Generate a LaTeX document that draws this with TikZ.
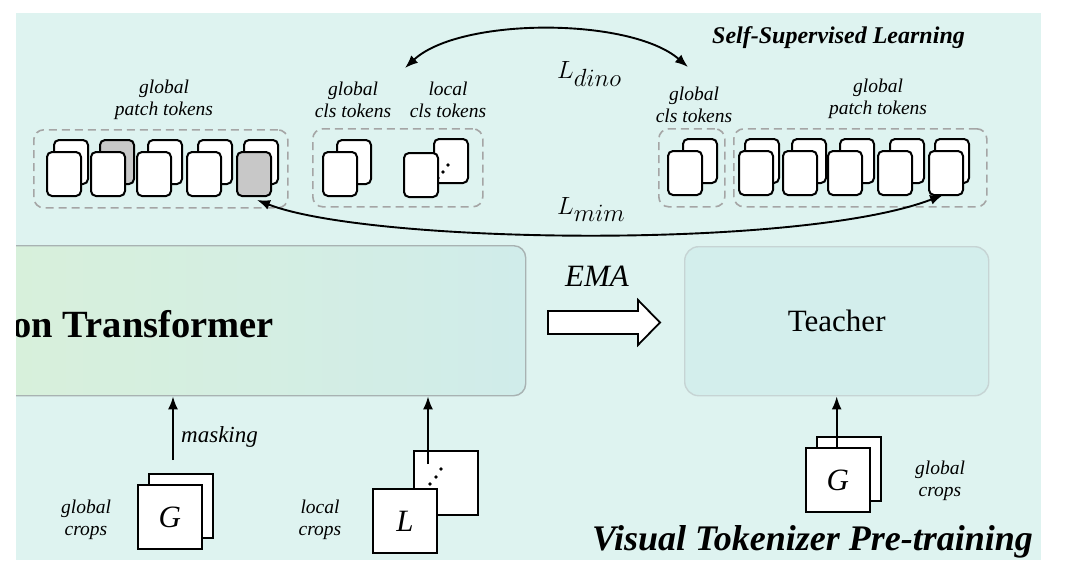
\documentclass[tikz,border=0pt]{standalone}
\usepackage{fontspec}
\setmainfont{Liberation Serif}
\usetikzlibrary{arrows.meta}

\definecolor{bgcyan}{RGB}{222,243,240}
\definecolor{teachfill}{RGB}{211,238,236}
\definecolor{teachline}{RGB}{198,212,212}
\definecolor{studleft}{RGB}{216,240,218}
\definecolor{studright}{RGB}{208,236,234}
\definecolor{studline}{RGB}{168,178,178}
\definecolor{dashgray}{RGB}{165,165,165}
\definecolor{maskgray}{RGB}{200,200,200}

\tikzset{
  card/.style={draw=black, line width=2pt, rounded corners=5pt, fill=white,
    minimum width=34pt, minimum height=44pt, inner sep=0pt, anchor=north west},
  graycard/.style={card, fill=maskgray},
  group/.style={draw=dashgray, dash pattern=on 8pt off 5pt, line width=1.6pt,
    rounded corners=10pt, inner sep=0pt, anchor=north west, minimum height=78pt},
  crop/.style={draw=black, line width=1.8pt, fill=white, minimum width=64pt,
    minimum height=64pt, inner sep=0pt, anchor=north west,
    font=\fontsize{31}{31}\selectfont\itshape},
  lbl/.style={align=center, font=\fontsize{19.5}{22}\selectfont\itshape, inner sep=0pt},
  loss/.style={anchor=base west, inner sep=0pt, font=\fontsize{35}{35}\selectfont},
  uparrow/.style={-{Latex[length=13pt,width=10pt]}, line width=1.9pt},
  twoway/.style={{Latex[length=13pt,width=10pt]}-{Latex[length=13pt,width=10pt]}, line width=1.9pt},
  dot/.style={fill=black},
}

\begin{document}
\begin{tikzpicture}[x=1pt,y=-1pt]
\useasboundingbox (0,0) rectangle (1065,560);
\fill[white] (0,0) rectangle (1065,560);
\fill[bgcyan] (16,13) rectangle (1041,560);

% ---- student encoder (runs past the left border) ----
\begin{scope}
  \clip (16,13) rectangle (1041,560);
  \node[draw=studline, line width=1.4pt, rounded corners=12pt,
        left color=studleft, right color=studright,
        minimum width=545pt, minimum height=150pt, inner sep=0pt,
        anchor=north west] (student) at (-20,245) {};
  \node[anchor=base east, inner sep=0pt,
        font=\fontsize{38.5}{38.5}\selectfont\bfseries] (studtext) at (274,337) {on Transformer};
\end{scope}

% ---- teacher ----
\node[draw=teachline, line width=1.4pt, rounded corners=14pt, fill=teachfill,
      minimum width=304pt, minimum height=149pt, inner sep=0pt, anchor=north west,
      font=\fontsize{31}{31}\selectfont] (teacher) at (684,246) {Teacher};

% ---- EMA block arrow ----
\node[font=\fontsize{31}{31}\selectfont\itshape, inner sep=0pt] (ema) at (597,276) {EMA};
\draw[line width=1.8pt, fill=white]
  (548,311) -- (638,311) -- (638,300) -- (660,322.5) -- (638,345) -- (638,334) -- (548,334) -- cycle;

% ---- token groups ----
\node[group, minimum width=254pt] (gpatchL) at (33,129) {};
\node[group, minimum width=170pt] (gclsL) at (312,128) {};
\node[group, minimum width=66pt] (gclsR) at (658,128) {};
\node[group, minimum width=253pt] (gpatchR) at (733,128) {};

% student patch tokens
\node[card] (lpb1) at (53,139) {};
\node[graycard] (lpb2) at (99,139) {};
\node[card] (lpb3) at (147,139) {};
\node[card] (lpb4) at (197,139) {};
\node[card] (lpb5) at (243,139) {};
\node[card] (lpf1) at (46,151) {};
\node[card] (lpf2) at (90,151) {};
\node[card] (lpf3) at (136,151) {};
\node[card] (lpf4) at (186,151) {};
\node[graycard] (lpf5) at (236,151) {};

% student cls tokens
\node[card] (lgcb) at (336,139) {};
\node[card] (lgcf) at (322,151) {};
\node[card] (llcb) at (433,138) {};
\fill[dot] (448,165) circle (1.9pt) (443,172) circle (1.9pt) (438,178) circle (1.9pt);
\node[card] (llcf) at (403,152) {};

% teacher cls tokens
\node[card] (rgcb) at (682,138) {};
\node[card] (rgcf) at (667,150) {};

% teacher patch tokens
\node[card] (rpb1) at (744,138) {};
\node[card] (rpb2) at (791,138) {};
\node[card] (rpb3) at (839,138) {};
\node[card] (rpb4) at (889,138) {};
\node[card] (rpb5) at (934,138) {};
\node[card] (rpf1) at (738,150) {};
\node[card] (rpf2) at (782,150) {};
\node[card] (rpf3) at (827,150) {};
\node[card] (rpf4) at (877,150) {};
\node[card] (rpf5) at (928,150) {};

% ---- token labels ----
\node[lbl] (tpatchL) at (164,100) {global\\patch tokens};
\node[lbl] (tgclsL) at (353,100) {global\\cls tokens};
\node[lbl] (tlclsL) at (448,100) {local\\cls tokens};
\node[lbl] (tgclsR) at (694,105) {global\\cls tokens};
\node[lbl] (tpatchR) at (878,99) {global\\patch tokens};

\node[anchor=base, inner sep=0pt, font=\fontsize{24}{24}\selectfont\bfseries\itshape]
  (ssl) at (838.5,43) {Self-Supervised Learning};

% ---- losses ----
\node[loss] (ldino) at (557,78) {$L_{dino}$};
\node[loss] (lmim) at (557,214) {$L_{mim}$};

\coordinate (dinoL) at (405,68);
\coordinate (dinoR) at (688,67);
\draw[twoway] (dinoL) .. controls (460,17) and (630,17) .. (dinoR);

\coordinate (mimL) at (257,200);
\coordinate (mimR) at (943,195);
\draw[twoway] (mimL) .. controls (370,244) and (800,250) .. (mimR);

% ---- input crops ----
\node[crop] (gcb) at (148,473) {};
\node[crop] (gcf) at (137,484) {G};
\node[crop] (lcb) at (413,450) {};
\fill[dot] (441,469) circle (1.9pt) (436,477) circle (1.9pt) (430,484) circle (1.9pt);
\node[crop] (lcf) at (372,488) {L};
\node[crop] (tcb) at (816,436) {};
\node[crop] (tcf) at (805,447) {G};

\node[lbl] (tgcrop) at (86,520) {global\\crops};
\node[lbl] (tlcrop) at (320,520) {local\\crops};
\node[lbl] (tgcropR) at (940,481) {global\\crops};

\coordinate (maskstart) at (173,460);
\coordinate (localstart) at (428,464);
\draw[uparrow] (maskstart) -- (maskstart |- student.south);
\node[anchor=west, inner sep=0pt, font=\fontsize{23}{23}\selectfont\itshape] (masking) at (181,437) {masking};
\draw[uparrow] (localstart) -- (localstart |- student.south);
\draw[uparrow] (tcf.north -| teacher.south) -- (teacher.south);

\node[anchor=base, inner sep=0pt, font=\fontsize{36}{36}\selectfont\bfseries\itshape]
  (vtp) at (812.5,550) {Visual Tokenizer Pre-training};
\end{tikzpicture}
\end{document}
